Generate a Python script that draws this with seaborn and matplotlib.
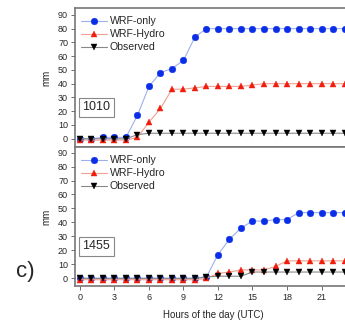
import matplotlib
matplotlib.use("Agg")
import matplotlib.pyplot as plt
import seaborn as sns
import pandas as pd
import numpy as np

hours = list(range(24))

top_wrf_only = [0, 0, 1, 1, 1, 17, 38, 48, 51, 57, 74, 80, 80, 80, 80, 80, 80, 80, 80, 80, 80, 80, 80, 80]
top_wrf_hydro = [-1, -1, -1, -1, -1, 1, 12, 22, 36, 36, 37, 38, 38, 38, 38, 39, 40, 40, 40, 40, 40, 40, 40, 40]
top_observed = [0, 0, 0, 0, 0, 3, 4, 4, 4, 4, 4, 4, 4, 4, 4, 4, 4, 4, 4, 4, 4, 4, 4, 4]

bot_wrf_only = [0, 0, 0, 0, 0, 0, 0, 0, 0, 0, 0, 1, 17, 28, 36, 41, 41, 42, 42, 47, 47, 47, 47, 47]
bot_wrf_hydro = [-1, -1, -1, -1, -1, -1, -1, -1, -1, -1, -1, 0, 3.5, 4.5, 6, 6, 6, 8.5, 12.5, 12.5, 12.5, 12.5, 12.5, 12.5]
bot_observed = [0, 0, 0, 0, 0, 0, 0, 0, 0, 0, 0, 1, 1.5, 1.5, 1.5, 4.5, 4.5, 4.5, 4.5, 4.5, 4.5, 4.5, 4.5, 4.5]

series_names = ["WRF-only", "WRF-Hydro", "Observed"]
panel_labels = ["1010", "1455"]
x_ticks = [0, 3, 6, 9, 12, 15, 18, 21]
y_ticks = list(range(0, 91, 10))

sns.set_style("ticks")
plt.rcParams["font.family"] = ["Liberation Sans", "DejaVu Sans"]

marker_colors = {"WRF-only": "#0a2ee8", "WRF-Hydro": "#f01c0c", "Observed": "#000000"}
line_colors = {"WRF-only": "#9db0ec", "WRF-Hydro": "#f2a090", "Observed": "#888888"}
markers = {"WRF-only": "o", "WRF-Hydro": "^", "Observed": "v"}

fig = plt.figure(figsize=(3.45, 3.22), dpi=100)
W, H = 345, 322
left_px, right_px = 75, 352
ax_top = fig.add_axes([left_px / W, 1 - 147 / H, (right_px - left_px) / W, (147 - 8) / H])
ax_bot = fig.add_axes([left_px / W, 1 - 286 / H, (right_px - left_px) / W, (286 - 147) / H])

panels = [
    (ax_top, [top_wrf_only, top_wrf_hydro, top_observed], (-6, 95), panel_labels[0]),
    (ax_bot, [bot_wrf_only, bot_wrf_hydro, bot_observed], (-5.5, 94), panel_labels[1]),
]

for ax, vals, ylim, lab in panels:
    frames = []
    for name, v in zip(series_names, vals):
        frames.append(pd.DataFrame({"hour": hours, "mm": v, "series": name}))
    df = pd.concat(frames, ignore_index=True)
    for name in series_names:
        d = df[df["series"] == name]
        sns.lineplot(data=d, x="hour", y="mm", ax=ax, color=line_colors[name],
                     marker=markers[name], markersize=4.8, markerfacecolor=marker_colors[name],
                     markeredgecolor=marker_colors[name], markeredgewidth=0.3,
                     linewidth=0.8, label=name)
    ax.set_xlim(-0.43, 23.65)
    ax.set_ylim(*ylim)
    ax.set_yticks(y_ticks)
    ax.set_xticks(x_ticks)
    ax.tick_params(axis="both", labelsize=6.5, length=3, width=0.6, color="#555555", pad=2)
    ax.set_ylabel("mm", fontsize=7, labelpad=5)
    ax.set_xlabel("")
    for s in ax.spines.values():
        s.set_visible(True)
        s.set_color("#777777")
        s.set_linewidth(1.2)
    ax.legend(loc="upper left", frameon=False, fontsize=7.6, handlelength=2.4,
              handletextpad=0.3, borderaxespad=0.2, labelspacing=0.28,
              bbox_to_anchor=(0.0, 0.985))
    ax.text(0.027, 0.285, lab, transform=ax.transAxes, fontsize=9, ha="left", va="center",
            bbox=dict(boxstyle="square,pad=0.3", facecolor="white", edgecolor="#888888", linewidth=0.8))

ax_top.tick_params(axis="x", labelbottom=False)
ax_bot.set_xlabel("Hours of the day (UTC)", fontsize=7, labelpad=6)
fig.text(16 / W, 1 - 271 / H, "c)", fontsize=16, ha="left", va="center")

fig.savefig("out.png", dpi=100)
